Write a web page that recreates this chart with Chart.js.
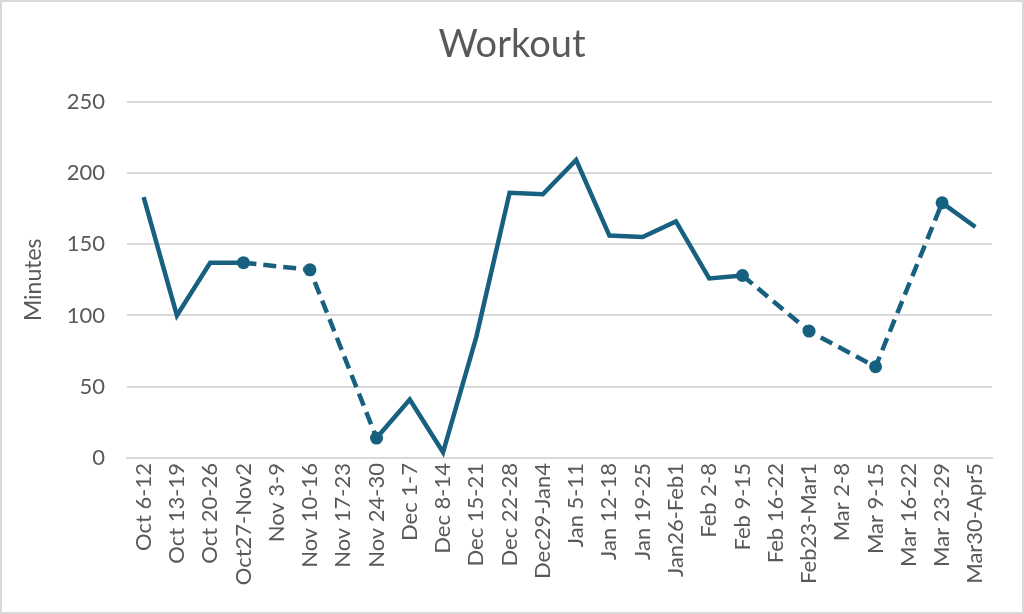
<!DOCTYPE html>
<html>
<head>
<meta charset="utf-8">
<script src="https://cdn.jsdelivr.net/npm/chart.js@4/dist/chart.umd.min.js"></script>
<style>
  body { margin: 0; background: #fff; }
  #wrap { width: 1024px; height: 614px; box-sizing: border-box; border: 2px solid #d9d9d9; background: #fff; }
</style>
</head>
<body>
<div id="wrap"><canvas id="myChart" width="1020" height="610"></canvas></div>
<script>
// weeks
const weeks = [
  "Oct 6-12", "Oct 13-19", "Oct 20-26", "Oct27-Nov2", "Nov 3-9", "Nov 10-16",
  "Nov 17-23", "Nov 24-30", "Dec 1-7", "Dec 8-14", "Dec 15-21", "Dec 22-28",
  "Dec29-Jan4", "Jan 5-11", "Jan 12-18", "Jan 19-25", "Jan26-Feb1", "Feb 2-8",
  "Feb 9-15", "Feb 16-22", "Feb23-Mar1", "Mar 2-8", "Mar 9-15", "Mar 16-22",
  "Mar 23-29", "Mar30-Apr5",
];

// minutes per week (null = no data)
const minutes = [
  183, 100, 137, 137, null, 132,
  null, 14, 41, 4, 85, 186,
  185, 209, 156, 155, 166, 126,
  128, null, 89, null, 64, null,
  179, 162,
];

const yTicks = [0, 50, 100, 150, 200, 250];

const lineColor = "#17607f";
const textColor = "#595959";
const gridColor = "#d9d9d9";
const font = "Lato";

// marker only next to a gap
const nearGap = (i) =>
  minutes[i] !== null && (minutes[i - 1] === null || minutes[i + 1] === null);

new Chart("myChart", {
  type: "line",
  data: {
    labels: weeks,
    datasets: [
      {
        data: minutes,
        borderColor: lineColor,
        backgroundColor: lineColor,
        borderWidth: 4.5,
        fill: false,
        tension: 0,
        spanGaps: true,
        pointRadius: (ctx) => (nearGap(ctx.dataIndex) ? 6.5 : 0),
        pointHoverRadius: 6.5,
        pointBorderWidth: 0,
        segment: {
          borderDash: (ctx) => (ctx.p0.skip || ctx.p1.skip ? [13, 7] : undefined),
        },
      },
    ],
  },
  options: {
    responsive: false,
    animation: false,
    layout: { padding: 0 },
    plugins: {
      legend: { display: false },
      tooltip: { enabled: false },
      title: {
        display: true,
        text: "Workout",
        color: textColor,
        font: { family: font, size: 38, weight: "normal" },
        padding: { top: 20, bottom: 34 },
      },
    },
    scales: {
      x: {
        offset: true,
        grid: { display: false, drawTicks: false },
        border: { color: gridColor, width: 2 },
        ticks: {
          color: textColor,
          font: { family: font, size: 22 },
          minRotation: 90,
          maxRotation: 90,
          autoSkip: false,
          padding: 5,
        },
        afterFit: (s) => { s.height = 154; },
      },
      y: {
        min: 0,
        max: 250,
        afterBuildTicks: (s) => { s.ticks = yTicks.map((v) => ({ value: v })); },
        grid: { color: gridColor, lineWidth: 2, drawTicks: false },
        border: { display: false },
        ticks: {
          color: textColor,
          font: { family: font, size: 22 },
          padding: 22,
        },
        title: {
          display: true,
          text: "Minutes",
          color: textColor,
          font: { family: font, size: 23 },
          padding: { top: 18, bottom: 0 },
        },
        afterFit: (s) => { s.width = 125; },
      },
      // empty space on the right side
      right: {
        position: "right",
        display: true,
        grid: { display: false, drawTicks: false },
        border: { display: false },
        ticks: { display: false },
        afterFit: (s) => { s.width = 30; },
      },
    },
  },
});
</script>
</body>
</html>
